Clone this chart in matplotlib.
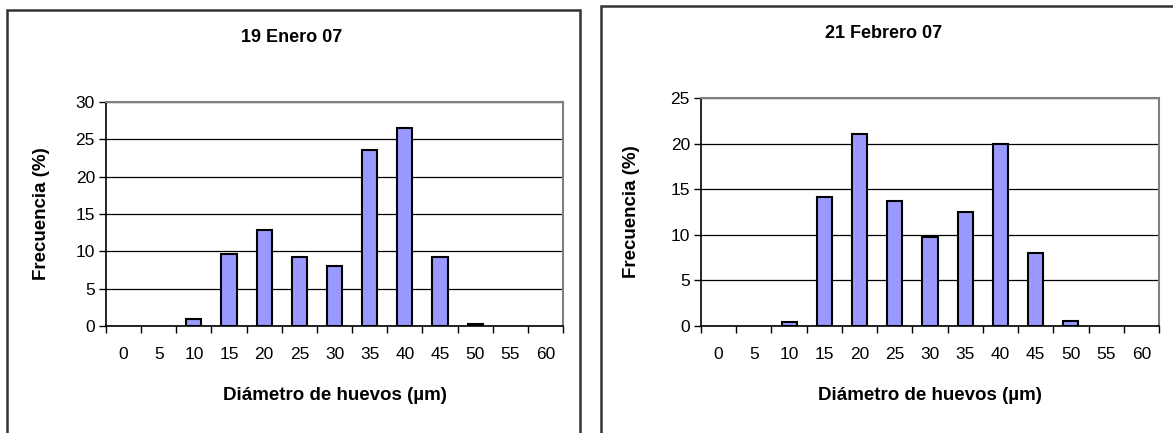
import numpy as np
import matplotlib
matplotlib.use("Agg")
import matplotlib.pyplot as plt
from matplotlib.patches import Rectangle

plt.rcParams['font.family'] = ['Liberation Sans', 'DejaVu Sans']

# ---------------- data ----------------
diametros = ['0', '5', '10', '15', '20', '25', '30', '35', '40', '45', '50', '55', '60']
frec_enero = [0, 0, 1.0, 9.6, 12.8, 9.2, 8.1, 23.6, 26.5, 9.2, 0.3, 0, 0]
frec_febrero = [0, 0, 0.45, 14.1, 21.0, 13.7, 9.8, 12.5, 20.0, 8.05, 0.6, 0, 0]

titulos = ['19 Enero 07', '21 Febrero 07']
ymax = [30, 25]

W, H = 1173, 433
fig = plt.figure(figsize=(W / 100, H / 100), dpi=100)

# axes boxes in pixels: left, top, right, bottom
boxes = [(106, 102, 563, 326), (701, 98, 1159, 326)]
frames = [(7, 10, 580, 440), (601, 6, 1185, 440)]
title_pos = [(292, 37), (884, 34)]


def px(x, y):
    return x / W, 1 - y / H


def draw_panel(i, valores):
    l, t, r, b = boxes[i]
    ax = fig.add_axes([l / W, 1 - b / H, (r - l) / W, (b - t) / H])
    x = np.arange(len(diametros))
    # empty classes get no outline (Excel draws nothing there)
    lw = [1.5 if v > 0 else 0 for v in valores]
    ax.bar(x, valores, width=0.43, color='#9999ff', edgecolor='black', linewidth=lw, zorder=3)

    ax.set_xlim(-0.5, len(diametros) - 0.5)
    ax.set_ylim(0, ymax[i])
    ax.set_yticks(np.arange(0, ymax[i] + 1, 5))
    ax.yaxis.grid(True, color='black', linewidth=0.9)
    ax.set_axisbelow(True)

    # ticks on category boundaries, labels in the middle
    ax.set_xticks(np.arange(-0.5, len(diametros), 1.0))
    ax.set_xticklabels([])
    ax.set_xticks(x, minor=True)
    ax.set_xticklabels(diametros, minor=True)
    ax.tick_params(axis='x', which='major', direction='out', length=5, width=1, color='black')
    ax.tick_params(axis='x', which='minor', length=0, pad=15, labelsize=12.5)
    ax.tick_params(axis='y', direction='out', length=5, width=1, labelsize=12.5, pad=3)

    for s in ['top', 'right']:
        ax.spines[s].set_color('#808080')
        ax.spines[s].set_linewidth(1.5)
    ax.spines['left'].set_linewidth(1.2)
    ax.spines['bottom'].set_linewidth(1.2)

    ax.set_xlabel('Diámetro de huevos (µm)', fontsize=13.5, fontweight='bold')
    ax.xaxis.set_label_coords(0.5, (b - 387) / (b - t))
    ax.set_ylabel('Frecuencia (%)', fontsize=13.5, fontweight='bold')
    ax.yaxis.set_label_coords(-0.122 if i == 0 else -0.133, 0.5)

    tx, ty = px(*title_pos[i])
    fig.text(tx, ty, titulos[i], ha='center', va='center', fontsize=13, fontweight='bold')

    fx0, fy0, fx1, fy1 = frames[i]
    fig.add_artist(Rectangle(px(fx0, fy1), (fx1 - fx0) / W, (fy1 - fy0) / H,
                             transform=fig.transFigure, fill=False,
                             edgecolor='#333333', linewidth=1.8))
    return ax


draw_panel(0, frec_enero)
draw_panel(1, frec_febrero)

fig.savefig('out.png', dpi=100)
